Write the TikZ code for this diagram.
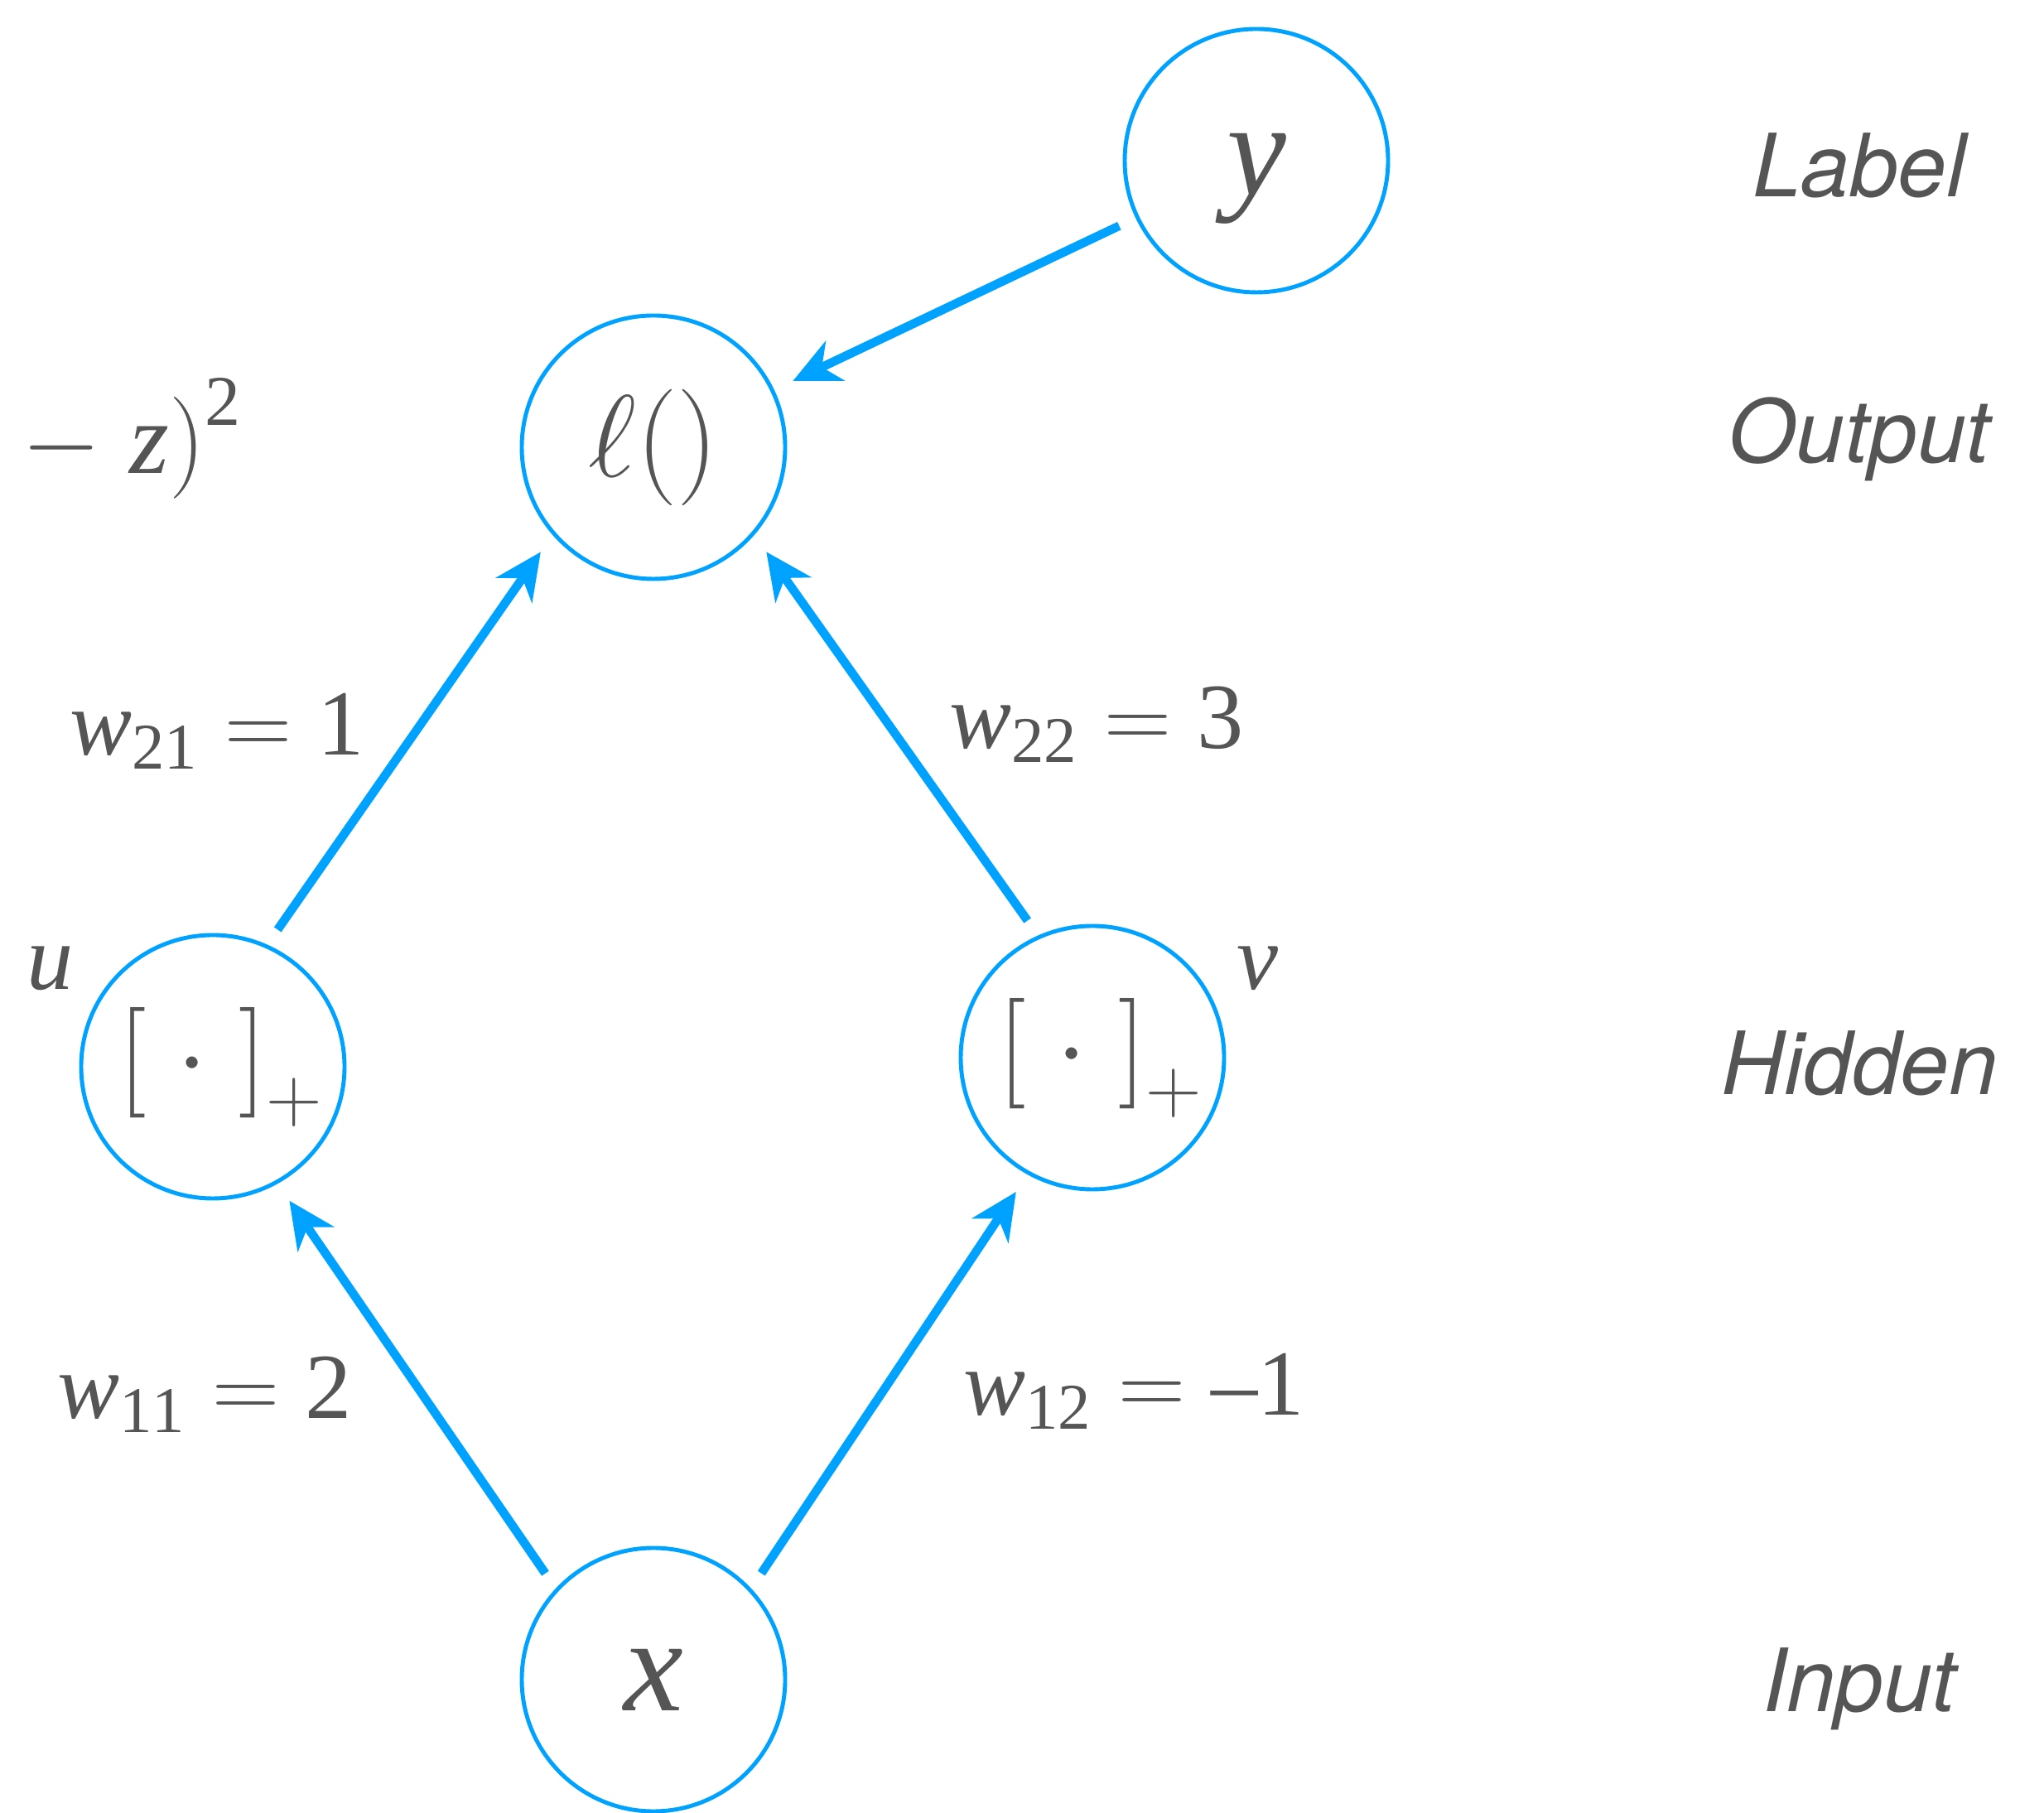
\RequirePackage{fix-cm}
\documentclass[tikz,border=0pt]{standalone}
\usepackage{amsmath}
\usepackage{fontspec}
\setmainfont{Liberation Serif}
\setsansfont{TeX Gyre Heros}
\usepackage{xcolor}
\definecolor{netblue}{RGB}{0, 162, 255}
\definecolor{netgray}{RGB}{85, 85, 85}
\usetikzlibrary{arrows.meta}

\begin{document}
\begin{tikzpicture}[>={Stealth[length=16pt, width=15pt, inset=5pt]},
  neuron/.style={circle, draw=netblue, line width=1.4pt, minimum size=3.18cm, inner sep=0pt,
    text=netgray, font=\fontsize{40}{48}\selectfont},
  link/.style={->, netblue, line width=3pt, shorten <=0.22cm, shorten >=0.25cm},
  weight/.style={text=netgray, font=\fontsize{32}{38}\selectfont},
  layer/.style={text=netgray, anchor=base, font=\sffamily\itshape\fontsize{30}{36}\selectfont}]

\useasboundingbox (0,0) rectangle (24.68,21.88);

% === Neuronas ===
\node[neuron, font=\fontsize{46}{55}\selectfont] (target) at (15.17, 19.94) {\raisebox{-0.22cm}[\height][\depth]{$\mathit{y}$}};
\node[neuron] (loss) at (7.89, 16.48) {$\ell\mathrm{()}$};
\node[neuron, font=\fontsize{38}{46}\selectfont] (hidu) at (2.57, 9.00) {\hspace{0.2cm}${\mathrm{[}}\;{\cdot}\;{\mathrm{]}}_{+}$};
\node[neuron, font=\fontsize{38}{46}\selectfont] (hidv) at (13.19, 9.11) {\hspace{0.2cm}${\mathrm{[}}\;{\cdot}\;{\mathrm{]}}_{+}$};
\node[neuron, font=\fontsize{46}{55}\selectfont] (input) at (7.89, 1.60) {$\mathit{x}$};

% === Conexiones ===
\draw[link] (target) -- (loss);
\draw[link] (hidu.66) -- (loss.221);
\draw[link] (hidv.114) -- (loss.319);
\draw[link] (input.137) -- (hidu.299);
\draw[link] (input.43) -- (hidv.241);

% === Pesos ===
\node[weight] (w21) at (2.62, 13.05) {$\mathit{w}_{\mathrm{21}} = \mathrm{1}$};
\node[weight] (w22) at (13.24, 13.13) {$\mathit{w}_{\mathrm{22}} = \mathrm{3}$};
\node[weight] (w11) at (2.47, 5.04) {$\mathit{w}_{\mathrm{11}} = \mathrm{2}$};
\node[weight] (w12) at (13.69, 5.08) {$\mathit{w}_{\mathrm{12}} = \mathrm{\text{–}1}$};

% === Nombres de las unidades ===
\node[weight] (nameu) at (0.61, 10.19) {$\mathit{u}$};
\node[weight] (namev) at (15.18, 10.19) {$\mathit{v}$};

% Formula recortada
\node[text=netgray, font=\fontsize{35}{42}\selectfont, anchor=base west] (lossformula) at (0.14, 16.16) {$-\;\mathit{z}\mathrm{)}^{\mathrm{2}}$};

% === Capas ===
\node[layer] (laylabel) at (22.45, 19.50) {Label};
\node[layer] (layout) at (22.45, 16.29) {Output};
\node[layer] (layhidden) at (22.45, 8.66) {Hidden};
\node[layer] (layinput) at (22.45, 1.21) {Input};

\end{tikzpicture}
\end{document}
